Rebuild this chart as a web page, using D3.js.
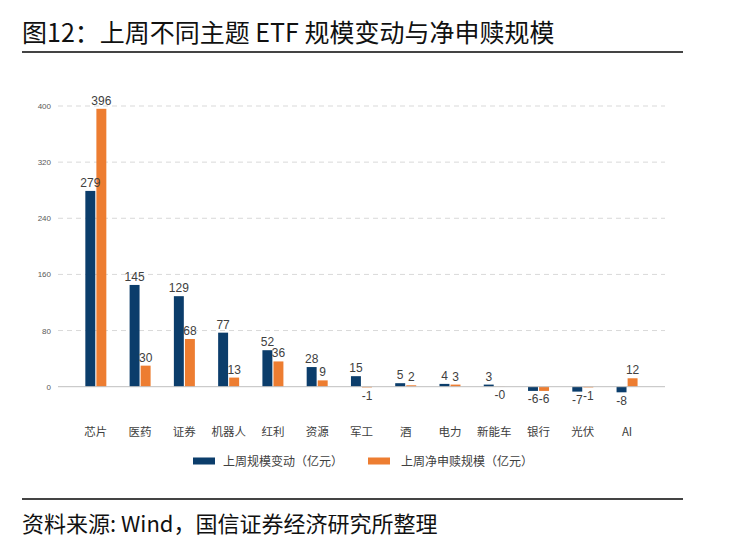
<!DOCTYPE html>
<html>
<head>
    <meta charset="utf-8">
    <title>上周不同主题 ETF 规模变动与净申赎规模</title>
    <script src="https://d3js.org/d3.v7.min.js"></script>
    <style>
      body { margin: 0; background: #fff; }
      svg { display: block; }
    </style>
</head>
<body>
<div id="chart"></div>
<script type="text/javascript">
    // data (亿元)
    let categories = ["芯片", "医药", "证券", "机器人", "红利", "资源", "军工", "酒", "电力", "新能车", "银行", "光伏", "AI"];
    let sizeChange = [279, 145, 129, 77, 52, 28, 15, 5, 4, 3, -6, -7, -8];
    let netFlow = [396, 30, 68, 13, 36, 9, -1, 2, 3, -0.2, -6, -1, 12];
    let netFlowText = ["396", "30", "68", "13", "36", "9", "-1", "2", "3", "-0", "-6", "-1", "12"];
    let seriesNames = ["上周规模变动（亿元）", "上周净申赎规模（亿元）"];
    let yTicks = [0, 80, 160, 240, 320, 400];

    let colors = ["#0b3d6b", "#ed7d31"];
    let W = 740, H = 546;

    let svg = d3.select("#chart")
            .append("svg")
                .attr("width", W)
                .attr("height", H);

    // title + rules
    svg.append("text")
        .attr("x", 22)
        .attr("y", 42)
        .attr("font-family", "'Noto Sans CJK SC', sans-serif")
        .attr("font-size", "25px")
        .attr("fill", "#111")
        .text("图12：上周不同主题 ETF 规模变动与净申赎规模");

    svg.append("line")
        .attr("x1", 22).attr("x2", 683)
        .attr("y1", 52).attr("y2", 52)
        .attr("stroke", "#444").attr("stroke-width", 2);

    svg.append("line")
        .attr("x1", 22).attr("x2", 683)
        .attr("y1", 499).attr("y2", 499)
        .attr("stroke", "#444").attr("stroke-width", 2);

    svg.append("text")
        .attr("x", 22)
        .attr("y", 532)
        .attr("font-family", "'Noto Sans CJK SC', sans-serif")
        .attr("font-size", "22px")
        .attr("fill", "#111")
        .text("资料来源: Wind，国信证券经济研究所整理");

    // scales
    let xScale = d3.scaleBand()
                  .domain(categories)
                  .range([73.7, 649.2]);
    let xSub = d3.scaleBand()
                  .domain([0, 1])
                  .range([-10.5, 10.5])
                  .paddingInner(0.1);
    let yScale = d3.scaleLinear()
                  .domain([0, 400])
                  .range([386.7, 106]);

    let cx = c => xScale(c) + xScale.bandwidth() / 2;

    // grid
    let yAxis = d3.axisLeft(yScale)
                    .tickValues(yTicks)
                    .tickSize(0)
                    .tickPadding(7);
    let gy = svg.append("g")
        .attr("transform", "translate(58,0)")
        .call(yAxis);
    gy.select(".domain").remove();
    gy.selectAll("text")
        .attr("font-family", "'Liberation Sans', Arial, sans-serif")
        .attr("font-size", "8px")
        .attr("fill", "#595959");

    svg.append("g").selectAll("line")
        .data(yTicks.filter(t => t > 0))
        .enter()
        .append("line")
            .attr("x1", 58).attr("x2", 665)
            .attr("y1", d => yScale(d)).attr("y2", d => yScale(d))
            .attr("stroke", "#d9d9d9")
            .attr("stroke-dasharray", "5,4");

    // bars
    let rows = categories.map((c, i) => ({c: c, v: [sizeChange[i], netFlow[i]], t: [String(sizeChange[i]), netFlowText[i]]}));
    let groups = svg.append("g").selectAll("g")
        .data(rows)
        .enter()
        .append("g")
            .attr("transform", d => "translate(" + cx(d.c) + ",0)");

    let cells = d => d.v.map((v, k) => ({k: k, v: v, t: d.t[k]}));

    groups.selectAll("rect")
        .data(cells)
        .enter()
        .append("rect")
            .attr("x", d => xSub(d.k))
            .attr("width", xSub.bandwidth())
            .attr("y", d => yScale(Math.max(0, d.v)))
            .attr("height", d => Math.abs(yScale(d.v) - yScale(0)))
            .attr("fill", d => colors[d.k]);

    groups.selectAll("text")
        .data(cells)
        .enter()
        .append("text")
            .attr("x", d => xSub(d.k) + xSub.bandwidth() / 2)
            .attr("y", d => d.v >= 0 ? yScale(d.v) - 4 : yScale(d.v) + 12.5)
            .attr("text-anchor", "middle")
            .attr("font-family", "'Liberation Sans', Arial, sans-serif")
            .attr("font-size", "12px")
            .attr("fill", "#404040")
            .text(d => d.t);

    // zero line
    svg.append("line")
        .attr("x1", 58).attr("x2", 665)
        .attr("y1", yScale(0)).attr("y2", yScale(0))
        .attr("stroke", "#bfbfbf");

    // category labels
    let xAxis = d3.axisBottom(xScale).tickSize(0).tickPadding(0);
    let gx = svg.append("g")
        .attr("transform", "translate(0,427)")
        .call(xAxis);
    gx.select(".domain").remove();
    gx.selectAll("text")
        .attr("dy", "0.8em")
        .attr("font-family", "'Noto Sans CJK SC', sans-serif")
        .attr("font-size", "11.5px")
        .attr("fill", "#404040");

    // legend
    let legendX = [193, 368];
    let legend = svg.append("g").selectAll("g")
        .data(seriesNames)
        .enter()
        .append("g")
            .attr("transform", (d, i) => "translate(" + legendX[i] + ",461)");
    legend.append("rect")
        .attr("x", 0).attr("y", -3.5)
        .attr("width", 22).attr("height", 7)
        .attr("fill", (d, i) => colors[i]);
    legend.append("text")
        .attr("x", (d, i) => i === 0 ? 30 : 33)
        .attr("y", 4.5)
        .attr("font-family", "'Noto Sans CJK SC', sans-serif")
        .attr("font-size", "12px")
        .attr("fill", "#404040")
        .text(d => d);
</script>
</body>
</html>
